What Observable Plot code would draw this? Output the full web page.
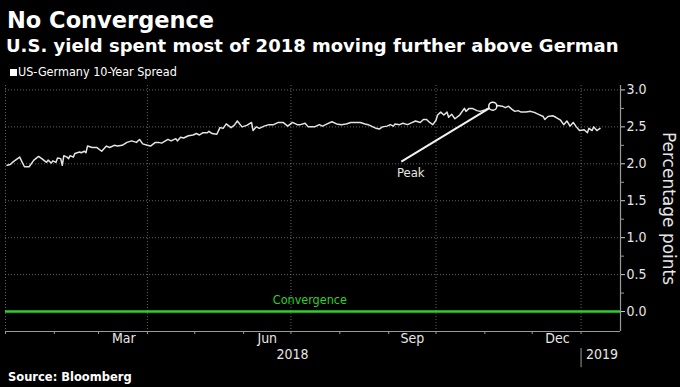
<!DOCTYPE html>
<html>
<head>
<meta charset="utf-8">
<script src="https://cdn.jsdelivr.net/npm/d3@7"></script>
<script src="https://cdn.jsdelivr.net/npm/@observablehq/plot@0.6"></script>
<style>
  html, body { margin: 0; padding: 0; background: #000; }
  #wrap { position: relative; width: 680px; height: 387px; background: #000; overflow: hidden; }
  #header { position: relative; height: 80px; }
  .title { position: absolute; left: 7px; top: 9px; font: bold 22.5px/1 "DejaVu Sans", sans-serif; color: #fff; white-space: nowrap; }
  .subtitle { position: absolute; left: 6px; top: 37px; font: bold 18px/1 "DejaVu Sans", sans-serif; color: #fff; white-space: nowrap; }
  .legend { position: absolute; left: 10px; top: 66px; font: 12.5px/1 "DejaVu Sans Condensed", "DejaVu Sans", sans-serif; font-stretch: condensed; color: #fff; white-space: nowrap; display: flex; align-items: center; }
  .legend .sw { display: inline-block; width: 7px; height: 7px; background: #fff; margin-right: 1px; }
  #footer { height: 20px; position: relative; }
  .source { position: absolute; left: 8px; top: 0; font: bold 11.5px/20px "DejaVu Sans", sans-serif; color: #fff; white-space: nowrap; }
  svg { display: block; }
</style>
</head>
<body>
<div id="wrap">
  <div id="header">
    <div class="title">No Convergence</div>
    <div class="subtitle">U.S. yield spent most of 2018 moving further above German</div>
    <div class="legend"><span class="sw"></span>US-Germany 10-Year Spread</div>
  </div>
  <div id="chart"></div>
  <div id="footer"><div class="source">Source: Bloomberg</div></div>
</div>
<script>
// ---- data ----
const dates = [
  "2018-01-02","2018-01-04","2018-01-06","2018-01-10","2018-01-13","2018-01-16","2018-01-19","2018-01-22","2018-01-24","2018-01-27",
  "2018-01-28","2018-01-30","2018-01-31","2018-02-02","2018-02-03","2018-02-05","2018-02-06","2018-02-07","2018-02-09","2018-02-10",
  "2018-02-11","2018-02-13","2018-02-14","2018-02-17","2018-02-18","2018-02-20","2018-02-21","2018-02-22","2018-02-25","2018-02-28",
  "2018-03-03","2018-03-06","2018-03-08","2018-03-11","2018-03-13","2018-03-16","2018-03-19","2018-03-22","2018-03-25","2018-03-27",
  "2018-03-29","2018-04-01","2018-04-03","2018-04-06","2018-04-08","2018-04-10","2018-04-14","2018-04-16","2018-04-19","2018-04-20",
  "2018-04-22","2018-04-24","2018-04-27","2018-04-30","2018-05-02","2018-05-04","2018-05-06","2018-05-09","2018-05-10","2018-05-12",
  "2018-05-15","2018-05-17","2018-05-19","2018-05-21","2018-05-24","2018-05-26","2018-05-28","2018-05-31","2018-06-03","2018-06-06",
  "2018-06-07","2018-06-09","2018-06-11","2018-06-14","2018-06-17","2018-06-20","2018-06-23","2018-06-26","2018-06-29","2018-07-02",
  "2018-07-05","2018-07-07","2018-07-10","2018-07-12","2018-07-16","2018-07-19","2018-07-21","2018-07-24","2018-07-27","2018-07-30",
  "2018-08-02","2018-08-05","2018-08-08","2018-08-11","2018-08-14","2018-08-17","2018-08-19","2018-08-22","2018-08-24","2018-08-26",
  "2018-08-28","2018-08-31","2018-09-02","2018-09-04","2018-09-05","2018-09-08","2018-09-10","2018-09-13","2018-09-15","2018-09-18",
  "2018-09-21","2018-09-23","2018-09-25","2018-09-27","2018-09-29","2018-10-01","2018-10-02","2018-10-04","2018-10-06","2018-10-08",
  "2018-10-09","2018-10-11","2018-10-13","2018-10-16","2018-10-19","2018-10-20","2018-10-22","2018-10-24","2018-10-27","2018-10-29",
  "2018-11-01","2018-11-04","2018-11-06","2018-11-09","2018-11-12","2018-11-14","2018-11-16","2018-11-18","2018-11-20","2018-11-22",
  "2018-11-24","2018-11-27","2018-11-30","2018-12-03","2018-12-05","2018-12-08","2018-12-09","2018-12-11","2018-12-14","2018-12-16",
  "2018-12-19","2018-12-21","2018-12-23","2018-12-25","2018-12-27","2018-12-29","2018-12-31","2019-01-03","2019-01-05","2019-01-06",
  "2019-01-08","2019-01-09","2019-01-11","2019-01-13"
];
const spread = [
  1.98,1.99,2.03,2.09,1.96,1.96,2.05,2.10,2.07,2.02,
  2.05,2.01,2.04,2.02,2.08,2.07,1.98,2.11,2.09,2.07,
  2.11,2.09,2.14,2.16,2.15,2.17,2.15,2.24,2.22,2.22,
  2.17,2.24,2.22,2.25,2.24,2.25,2.29,2.31,2.29,2.33,
  2.27,2.25,2.24,2.29,2.29,2.28,2.33,2.31,2.34,2.31,
  2.36,2.35,2.38,2.39,2.41,2.39,2.42,2.42,2.44,2.41,
  2.40,2.49,2.48,2.54,2.49,2.52,2.58,2.50,2.52,2.56,
  2.45,2.50,2.48,2.51,2.53,2.53,2.56,2.56,2.51,2.56,
  2.53,2.53,2.55,2.50,2.50,2.53,2.51,2.54,2.57,2.54,
  2.53,2.54,2.56,2.56,2.56,2.54,2.53,2.50,2.48,2.47,
  2.50,2.51,2.53,2.51,2.54,2.53,2.55,2.53,2.55,2.58,
  2.56,2.60,2.60,2.56,2.53,2.59,2.66,2.70,2.66,2.70,
  2.63,2.67,2.61,2.66,2.75,2.71,2.75,2.75,2.72,2.71,
  2.73,2.76,2.78,2.79,2.78,2.76,2.78,2.74,2.71,2.72,
  2.70,2.70,2.71,2.69,2.67,2.64,2.60,2.64,2.65,2.63,
  2.59,2.53,2.58,2.51,2.56,2.50,2.45,2.46,2.42,2.48,
  2.45,2.50,2.45,2.48
];
const quarterStarts = ["2018-01-01","2018-04-01","2018-07-01","2018-10-01","2019-01-01"];
const monthStarts = ["2018-01-01","2018-02-01","2018-03-01","2018-04-01","2018-05-01","2018-06-01","2018-07-01",
  "2018-08-01","2018-09-01","2018-10-01","2018-11-01","2018-12-01","2019-01-01"];
const monthLabels = ["Mar","Jun","Sep","Dec"];
const monthLabelDates = ["2018-03-17","2018-06-16","2018-09-16","2018-12-17"];
const yearLabels = ["2018","2019"];
const yearLabelDates = ["2018-07-02","2019-01-01"];
const yTicks = [0, 0.5, 1.0, 1.5, 2.0, 2.5, 3.0];
const yMinorTicks = [0.25, 0.75, 1.25, 1.75, 2.25, 2.75];
const peak = {date: "2018-11-06", value: 2.78};
const peakLabel = {text: "Peak", date: "2018-09-15", value: 1.88, lineDate: "2018-09-09", lineValue: 2.03};
const convergence = {text: "Convergence", date: "2018-07-13", value: 0};
const xDomain = ["2018-01-01", "2019-01-26"];
const yDomain = [-0.27, 3.06];

// ---- build ----
const D = s => new Date(s);
const data = dates.map((d, i) => ({date: D(d), value: spread[i]}));
const condensed = `"DejaVu Sans Condensed", "DejaVu Sans", sans-serif`;
const axisGray = "#9a9a9a";
const textCol = "#e6e6e6";
const green = "#2fcf2f";

const chart = Plot.plot({
  width: 680,
  height: 287,
  marginTop: 5,
  marginBottom: 36,
  marginLeft: 5,
  marginRight: 60,
  style: {background: "#000", color: textCol, fontFamily: condensed, fontSize: "14px", overflow: "visible"},
  x: {type: "utc", domain: xDomain.map(D), axis: null},
  y: {domain: yDomain, axis: null},
  marks: [
    Plot.gridX(quarterStarts.map(D), {stroke: "#8a8a8a", strokeOpacity: 0.7, strokeDasharray: "1,2"}),
    Plot.gridY(yTicks.filter(v => v > 0), {stroke: "#8a8a8a", strokeOpacity: 0.7, strokeDasharray: "1,2"}),
    Plot.ruleY([0], {stroke: green, strokeWidth: 2.5}),
    Plot.text([convergence], {x: d => D(d.date), y: "value", text: "text", dy: -12, fill: green, fontSize: 12.5, fontFamily: condensed}),
    Plot.line(data, {x: "date", y: "value", stroke: "#e4e4e4", strokeWidth: 1.5}),
    Plot.link([peakLabel], {x1: d => D(d.lineDate), y1: "lineValue", x2: () => D(peak.date), y2: () => peak.value, stroke: "#f2f2f2", strokeWidth: 2}),
    Plot.dot([peak], {x: d => D(d.date), y: "value", r: 4, fill: "#000", stroke: "#f2f2f2", strokeWidth: 1.5}),
    Plot.text([peakLabel], {x: d => D(d.date), y: "value", text: "text", fill: textCol, fontSize: 13, fontFamily: condensed}),
    // x axis
    Plot.ruleY([yDomain[0]], {stroke: axisGray, strokeWidth: 1.2}),
    Plot.axisX(monthStarts.map(D), {tickSize: 3, tickFormat: () => "", stroke: axisGray}),
    Plot.text(monthLabelDates.map(D), {x: d => d, text: (d, i) => monthLabels[i], frameAnchor: "bottom", dy: 11, fill: textCol, fontSize: 14, fontFamily: condensed}),
    Plot.text([yearLabelDates[0]].map(D), {x: d => d, text: () => yearLabels[0], frameAnchor: "bottom", dy: 27, textAnchor: "middle", fill: textCol, fontSize: 14, fontFamily: condensed}),
    Plot.text([yearLabelDates[1]].map(D), {x: d => d, text: () => yearLabels[1], frameAnchor: "bottom", dy: 27, dx: 5, textAnchor: "start", fill: textCol, fontSize: 14, fontFamily: condensed}),
    Plot.ruleX([D(yearLabelDates[1])], {y1: -0.50, y2: -0.76, stroke: axisGray, strokeWidth: 1}),
    // y axis (right)
    Plot.ruleX([D(xDomain[1])], {stroke: axisGray, strokeWidth: 1.2}),
    Plot.axisY(yMinorTicks, {anchor: "right", tickSize: 3, tickFormat: () => "", stroke: axisGray}),
    Plot.axisY(yTicks, {anchor: "right", tickSize: 4, tickPadding: 2, tickFormat: d3.format(".1f"), stroke: "#cfcfcf", fill: textCol, fontSize: 14, fontFamily: condensed, label: null}),
    Plot.text(["Percentage points"], {frameAnchor: "right", text: d => d, dx: 48, rotate: 90, textAnchor: "middle", lineAnchor: "middle", fill: textCol, fontSize: 17, fontFamily: `"DejaVu Sans", sans-serif`})
  ]
});
document.getElementById("chart").appendChild(chart);
</script>
</body>
</html>
